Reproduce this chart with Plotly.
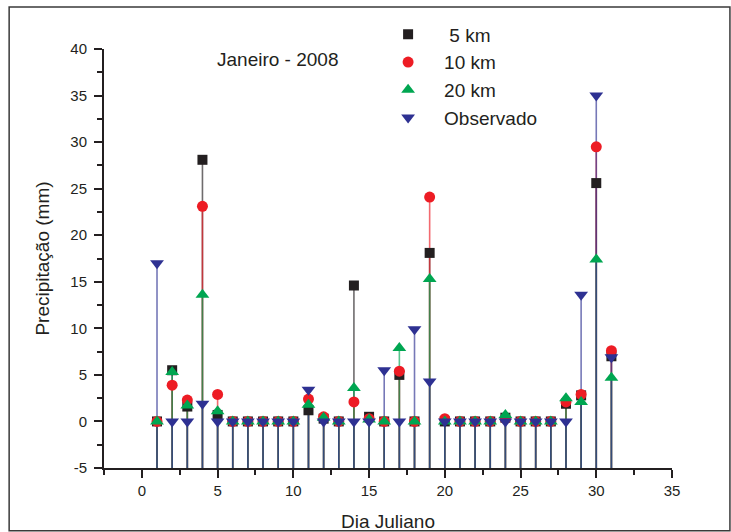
import plotly.graph_objects as go

# Daily precipitation, January 2008: model runs at three resolutions vs. observed
days = list(range(1, 32))
km5 = [0, 5.5, 1.6, 28.1, 0.7, 0, 0, 0, 0, 0, 1.2, 0.3, 0, 14.6, 0.5, 0,
       5.0, 0, 18.1, 0, 0, 0, 0, 0.4, 0, 0, 0, 1.9, 2.8, 25.6, 7.0]
km10 = [0, 3.9, 2.3, 23.1, 2.9, 0, 0, 0, 0, 0, 2.4, 0.5, 0, 2.1, 0.3, 0,
        5.4, 0, 24.1, 0.3, 0, 0, 0, 0.3, 0, 0, 0, 2.1, 2.9, 29.5, 7.6]
km20 = [0, 5.3, 1.7, 13.6, 1.1, 0, 0, 0, 0, 0, 1.8, 0.4, 0, 3.6, 0.2, 0,
        7.9, 0, 15.3, 0, 0, 0, 0, 0.7, 0, 0, 0, 2.5, 2.1, 17.4, 4.7]
obs = [17.0, 0, 0, 1.9, 0, 0, 0, 0, 0, 0, 3.4, 0, 0, 0, 0, 5.5,
       0, 9.9, 4.3, 0, 0, 0, 0, 0, 0, 0, 0, 0, 13.6, 35.0, 6.9]

X_RANGE = [-2.5, 35]
Y_RANGE = [-5, 40]
x_ticks = [0, 5, 10, 15, 20, 25, 30, 35]
y_ticks = [-5, 0, 5, 10, 15, 20, 25, 30, 35, 40]

FONT = "Liberation Sans, Arial, sans-serif"
INK = "#231F20"

series = [
    ("\u00a05 km", km5, "#231F20", "square", 10),
    ("10 km", km10, "#ED1C24", "circle", 11),
    ("20 km", km20, "#00A651", "triangle-up", 12),
    ("Observado", obs, "#2E3192", "triangle-down", 12),
]

fig = go.Figure()

# drop lines from every point down to the bottom of the y axis
for name, vals, color, sym, size in series:
    xs, ys = [], []
    for d, v in zip(days, vals):
        xs += [d, d, None]
        ys += [v, Y_RANGE[0], None]
    fig.add_trace(go.Scatter(
        x=xs, y=ys, mode="lines", showlegend=False, hoverinfo="skip",
        line=dict(color=color, width=1.6), opacity=0.65,
    ))

# markers on top of the drop lines
for name, vals, color, sym, size in series:
    fig.add_trace(go.Scatter(
        x=days, y=vals, mode="markers", name=name,
        marker=dict(symbol=sym, size=size, color=color, line=dict(width=0)),
    ))

axis_common = dict(
    showgrid=False, zeroline=False, showline=True, linecolor=INK, linewidth=2,
    ticks="outside", tickcolor=INK, tickwidth=2, ticklen=8,
    tickfont=dict(family=FONT, size=15, color=INK),
    mirror=False, automargin=False, tickmode="array",
)
minor_ticks = dict(ticks="outside", ticklen=5, tickwidth=2, tickcolor=INK, dtick=2.5, tick0=0)

fig.update_xaxes(
    range=X_RANGE, tickvals=x_ticks, ticktext=[str(t) for t in x_ticks],
    minor=minor_ticks,
    title=dict(text="Dia Juliano", font=dict(family=FONT, size=19, color=INK), standoff=18),
    **axis_common,
)
fig.update_yaxes(
    range=Y_RANGE, tickvals=y_ticks, ticktext=[str(t) for t in y_ticks],
    minor=minor_ticks,
    title=dict(text="Precipitação (mm)", font=dict(family=FONT, size=19, color=INK), standoff=16),
    ticklabelstandoff=4,
    **axis_common,
)

fig.add_annotation(
    text="Janeiro - 2008", xref="paper", yref="paper", x=0.305, y=0.974,
    xanchor="center", yanchor="middle",
    showarrow=False, font=dict(family=FONT, size=19, color=INK),
)

# outer frame around the whole figure
fig.add_shape(
    type="rect", xref="paper", yref="paper",
    x0=-0.167, x1=1.102, y0=-0.150, y1=1.100,
    line=dict(color="#3a3a3a", width=1.5), layer="above",
)

fig.update_layout(
    width=731, height=532,
    margin=dict(l=104, r=59, t=49, b=64),
    paper_bgcolor="white", plot_bgcolor="white",
    legend=dict(
        x=0.472, y=1.08, xanchor="left", yanchor="top",
        font=dict(family=FONT, size=19, color=INK),
        bgcolor="rgba(0,0,0,0)", itemwidth=62, tracegroupgap=0,
    ),
)

fig.write_html("out.html")
